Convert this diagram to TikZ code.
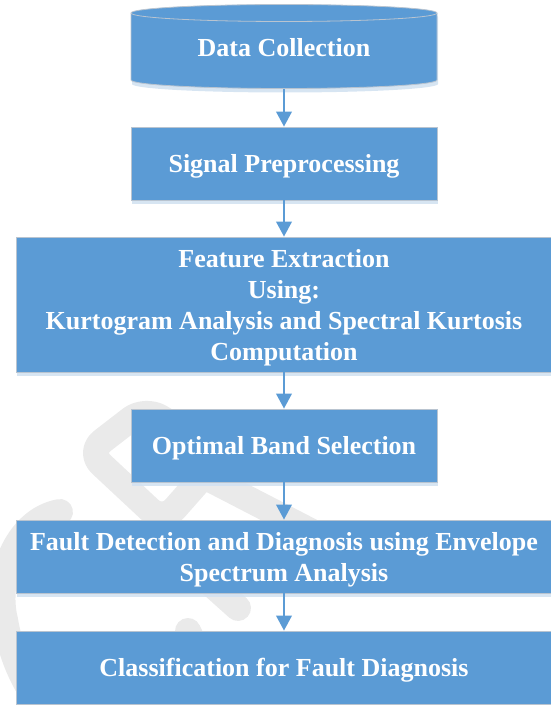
\documentclass[tikz,border=0pt]{standalone}
\usepackage{fontspec}
\setmainfont{Liberation Serif}
\usetikzlibrary{arrows.meta,shadows}
\definecolor{boxblue}{HTML}{5B9BD5}
\definecolor{boxline}{HTML}{B9C4D0}
\definecolor{boxshade}{HTML}{D3E2F1}
\definecolor{markgray}{HTML}{EAEAEA}
\tikzset{
  boxshadow/.style={drop shadow={shadow xshift=1pt, shadow yshift=-4pt, fill=boxshade, opacity=0.9}},
  blocktext/.style={text=white, font=\bfseries\fontsize{26}{31}\selectfont, align=center, inner sep=0pt, text depth=0pt},
  block/.style={blocktext, fill=boxblue, draw=boxline, line width=0.8pt, boxshadow},
  flow/.style={draw=boxblue, line width=2.3pt, -{Triangle[length=15pt,width=15.5pt]}},
  wmark/.style={draw=markgray, line width=26pt, line cap=round, line join=round}
}

\begin{document}
\begin{tikzpicture}[x=1pt,y=1pt]
			%%%%% START %%%%%
			\useasboundingbox (0,0) rectangle (550,705);
			
			% faint logo in the background
			\draw[wmark, rounded corners=18pt] (88,253) -- (145,297) -- (222,250) -- (163,183) -- cycle;
			\draw[wmark] (200,231) -- (345,156);
			\draw[wmark] (190,140) -- (238,97);
			\draw[wmark] (188,74) -- (220,5);
			\draw[wmark] (60,193) .. controls (15,185) and (-5,125) .. (5,85) .. controls (12,45) and (25,20) .. (45,-7);
			
			% data store
			\path[fill=boxblue, draw=boxline, line width=0.8pt, boxshadow] (131,692) -- (131,625) arc[start angle=180, end angle=360, x radius=153, y radius=8.5] -- (437,692) arc[start angle=0, end angle=180, x radius=153, y radius=8.5] -- cycle;
			\draw[boxline, line width=0.8pt] (131,692) arc[start angle=180, end angle=360, x radius=153, y radius=8.5];
			\node[blocktext, minimum width=306pt, minimum height=84pt] (collect) at (284,658) {Data Collection};
			
			% steps
			\node[block, minimum width=306pt, minimum height=73pt] (prep) at (284,541.5) {Signal Preprocessing};
			\node[block, minimum width=536pt, minimum height=135pt] (feat) at (284,400.5) {Feature Extraction\\Using:\\Kurtogram Analysis and Spectral Kurtosis\\Computation};
			\node[block, minimum width=306pt, minimum height=73pt] (band) at (284,259.5) {Optimal Band Selection};
			\node[block, minimum width=536pt, minimum height=73pt] (fault) at (284,148.5) {Fault Detection and Diagnosis using Envelope\\Spectrum Analysis};
			\node[block, minimum width=536pt, minimum height=73pt] (classify) at (284,37.5) {Classification for Fault Diagnosis};
			
			\draw[flow] (collect.south) -- (prep.north);
			\draw[flow] (prep.south) -- (feat.north);
			\draw[flow] (feat.south) -- (band.north);
			\draw[flow] (band.south) -- (fault.north);
			\draw[flow] (fault.south) -- (classify.north);
			
			%%%%% END %%%%%
\end{tikzpicture}
\end{document}
